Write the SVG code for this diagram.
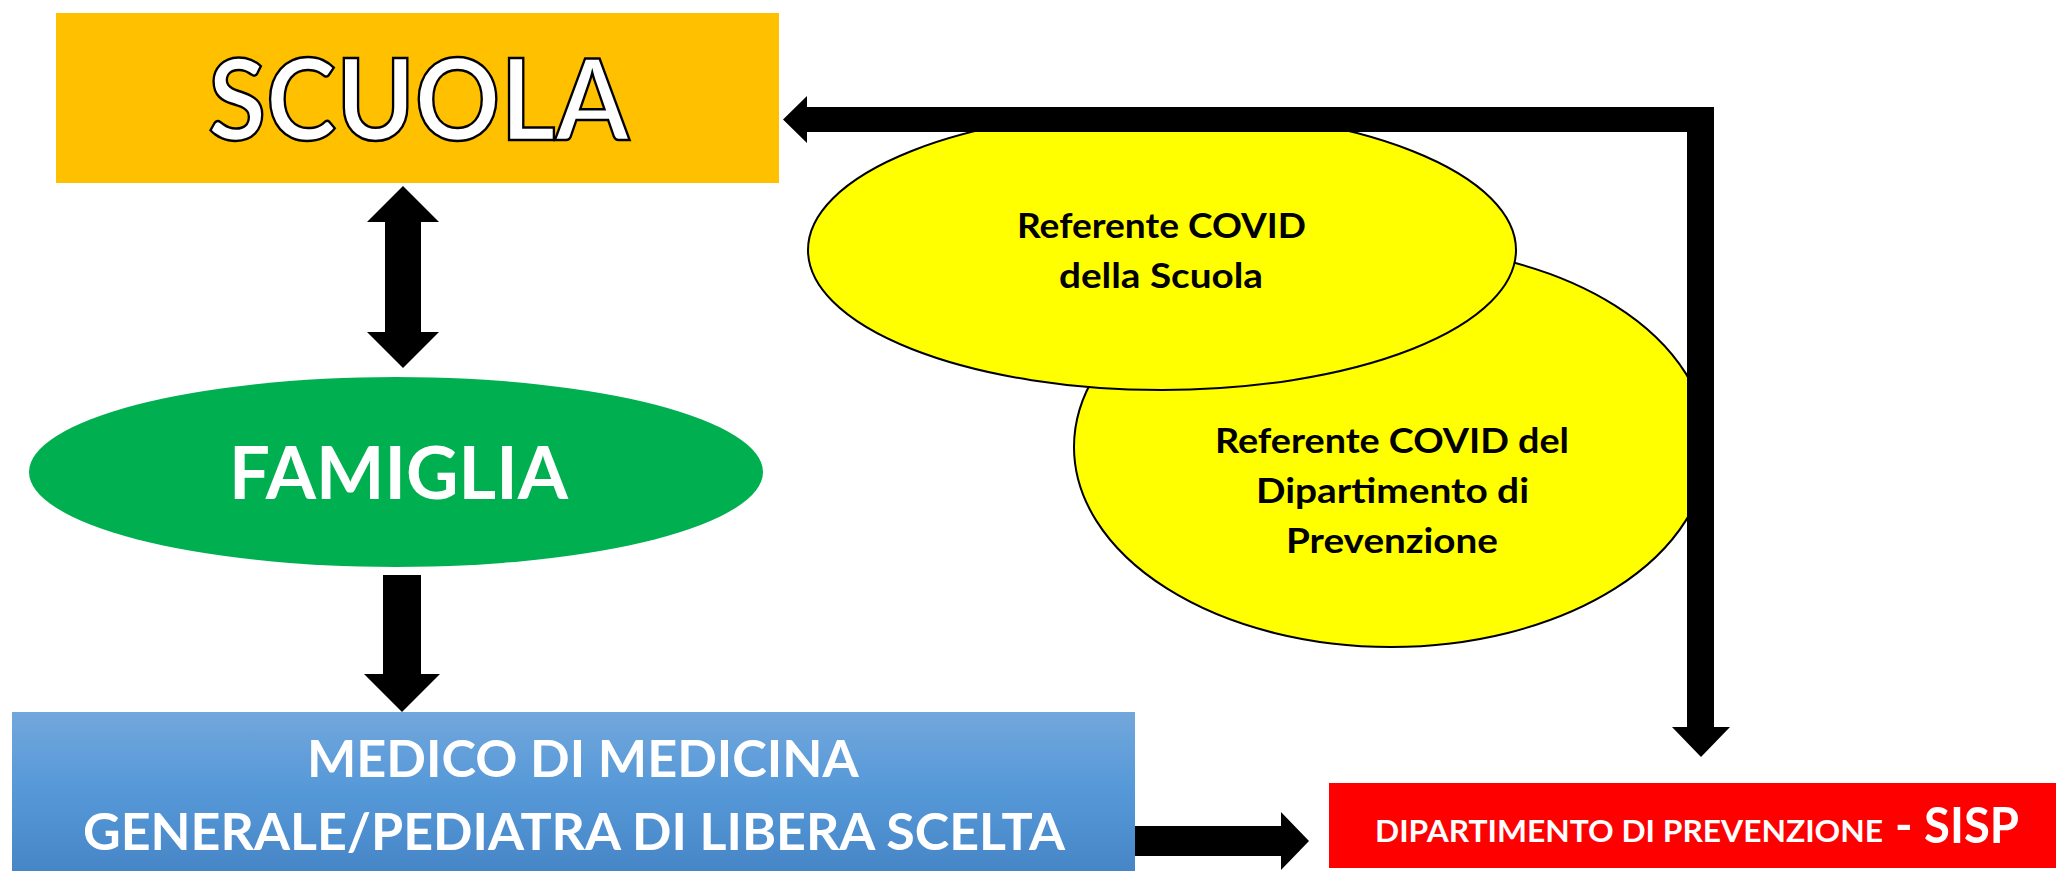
<svg xmlns="http://www.w3.org/2000/svg" width="2056" height="871" viewBox="0 0 2056 871">
<defs>
<linearGradient id="blueGrad" x1="0" y1="0" x2="0" y2="1">
<stop offset="0" stop-color="#72A7DC"/>
<stop offset="0.5" stop-color="#5598D8"/>
<stop offset="1" stop-color="#4786C6"/>
</linearGradient>
</defs>
<style>
text { font-family: Lato, "Open Sans", "Liberation Sans", sans-serif; }
.white { fill: #FFFFFF; font-weight: bold; }
.black { fill: #000000; font-weight: bold; }
.yel { fill: #FFFF00; stroke: #000000; stroke-width: 2; }
.conn { fill: #000000; }
</style>
<rect x="0" y="0" width="2056" height="871" fill="#FFFFFF"/>

<g id="scuola">
<rect x="56" y="13" width="723" height="170" fill="#FFC000"/>
<text x="208" y="140" font-size="113" font-weight="bold" fill="#FFFFFF" stroke="#000000" stroke-width="2.5" textLength="421" lengthAdjust="spacingAndGlyphs">SCUOLA</text>
</g>

<g id="famiglia">
<ellipse cx="396" cy="472" rx="367" ry="95" fill="#00B050"/>
<text class="white" x="229" y="499" font-size="72" textLength="339" lengthAdjust="spacingAndGlyphs">FAMIGLIA</text>
</g>

<g id="medico">
<rect x="12" y="712" width="1123" height="159" fill="url(#blueGrad)"/>
<text class="white" font-size="52">
<tspan x="307" y="777" textLength="550" lengthAdjust="spacingAndGlyphs">MEDICO DI MEDICINA</tspan>
<tspan x="83" y="850" textLength="982" lengthAdjust="spacingAndGlyphs">GENERALE/PEDIATRA DI LIBERA SCELTA</tspan>
</text>
</g>

<g id="dipartimento">
<rect x="1329" y="783" width="727" height="85" fill="#FF0000"/>
<text class="white"><tspan x="1375" y="842" font-size="31" textLength="508" lengthAdjust="spacingAndGlyphs">DIPARTIMENTO DI PREVENZIONE</tspan><tspan x="1895" y="843" font-size="49" textLength="124" lengthAdjust="spacingAndGlyphs">- SISP</tspan></text>
</g>

<g id="referente-dipartimento">
<ellipse class="yel" cx="1391" cy="447" rx="317" ry="200"/>
<text class="black" font-size="35">
<tspan x="1215" y="453" textLength="354" lengthAdjust="spacingAndGlyphs">Referente COVID del</tspan>
<tspan x="1256" y="503" textLength="273" lengthAdjust="spacingAndGlyphs">Dipartimento di</tspan>
<tspan x="1286" y="553" textLength="212" lengthAdjust="spacingAndGlyphs">Prevenzione</tspan>
</text>
</g>

<g id="referente-scuola">
<ellipse class="yel" cx="1162" cy="250" rx="354" ry="140"/>
<text class="black" font-size="35">
<tspan x="1017" y="238" textLength="289" lengthAdjust="spacingAndGlyphs">Referente COVID</tspan>
<tspan x="1059" y="288" textLength="204" lengthAdjust="spacingAndGlyphs">della Scuola</tspan>
</text>
</g>

<g id="connectors">
<polygon class="conn" points="403,186 439,222 421,222 421,332 439,332 403,368 367,332 385,332 385,222 367,222"/>
<polygon class="conn" points="383,575 421,575 421,674 440,674 402,712 364,674 383,674"/>
<polygon class="conn" points="1135,826 1281,826 1281,812 1309,841 1281,870 1281,856 1135,856"/>
<polygon class="conn" points="783,119.5 807,96 807,107 1714,107 1714,727 1730,727 1701,757 1672,727 1687,727 1687,132 807,132 807,143"/>
</g>
</svg>
